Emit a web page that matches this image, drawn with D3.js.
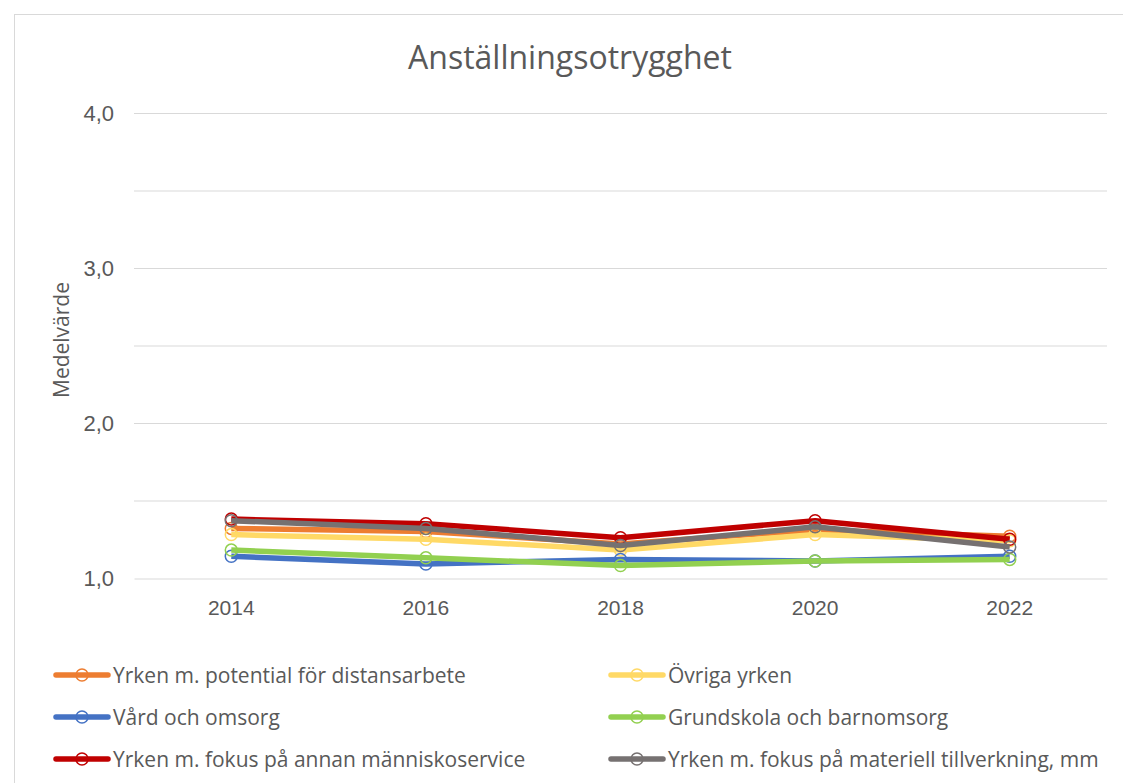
<!DOCTYPE html>
<html>
<head>
<meta charset="utf-8">
<script src="https://cdn.jsdelivr.net/npm/d3@7"></script>
<style>
  body { margin: 0; background: #fff; }
  svg { font-family: "Open Sans", sans-serif; }
  .grid line { stroke: #d9d9d9; stroke-width: 1; }
  .tick text { fill: #595959; font-size: 21px; }
</style>
</head>
<body>
<div id="chart"></div>
<script>
// Chart size
var w = 1123;
var h = 783;

// Data
var years = ["2014", "2016", "2018", "2020", "2022"];
var seriesNames = [
  "Yrken m. potential för distansarbete",
  "Övriga yrken",
  "Vård och omsorg",
  "Grundskola och barnomsorg",
  "Yrken m. fokus på annan människoservice",
  "Yrken m. fokus på materiell tillverkning, mm"
];
var seriesColors = ["#ED7D31", "#FFD966", "#4472C4", "#92D050", "#C00000", "#767171"];
var distans   = [1.32, 1.30, 1.22, 1.31, 1.27];
var ovriga    = [1.28, 1.25, 1.18, 1.28, 1.24];
var vard      = [1.14, 1.09, 1.12, 1.11, 1.14];
var grundskola = [1.18, 1.13, 1.08, 1.11, 1.12];
var manniskoservice = [1.38, 1.35, 1.26, 1.37, 1.25];
var materiell = [1.37, 1.32, 1.21, 1.33, 1.20];
var allValues = [distans, ovriga, vard, grundskola, manniskoservice, materiell];
var yTicks = [1, 2, 3, 4];
var yGrid = [1.5, 2, 2.5, 3, 3.5, 4];

var svg = d3.select("#chart")
  .append("svg")
  .attr("width", w)
  .attr("height", h);

// Chart border
svg.append("rect")
  .attr("x", 14.5).attr("y", 14.5)
  .attr("width", w).attr("height", h)
  .attr("fill", "none")
  .attr("stroke", "#d9d9d9");

var xScale = d3.scaleBand()
  .domain(years)
  .range([134, 1107]);

var yScale = d3.scaleLinear()
  .domain([1, 4])
  .range([578, 113]);

// Gridlines
svg.append("g")
  .attr("class", "grid")
  .selectAll("line")
  .data(yGrid)
  .join("line")
  .attr("x1", 134).attr("x2", 1107)
  .attr("y1", function(d) { return yScale(d) + 0.5; })
  .attr("y2", function(d) { return yScale(d) + 0.5; });

// Y axis
var yAxis = d3.axisLeft(yScale)
  .tickValues(yTicks)
  .tickSize(0)
  .tickPadding(20)
  .tickFormat(function(d) { return d3.format(".1f")(d).replace(".", ","); });

svg.append("g")
  .attr("transform", "translate(134,0)")
  .call(yAxis)
  .call(function(g) { g.select(".domain").remove(); })
  .selectAll(".tick text").style("font-size", "22px");

// X axis
var xAxis = d3.axisBottom(xScale).tickSize(0).tickPadding(22);
svg.append("g")
  .attr("transform", "translate(0,578.5)")
  .call(xAxis)
  .call(function(g) { g.select(".domain").attr("stroke", "#d9d9d9"); });

// Title
svg.append("text")
  .attr("x", 570).attr("y", 69)
  .attr("text-anchor", "middle")
  .attr("fill", "#595959")
  .attr("font-size", 32)
  .text("Anställningsotrygghet");

// Y label
svg.append("text")
  .attr("transform", "translate(69,340) rotate(-90)")
  .attr("text-anchor", "middle")
  .attr("fill", "#595959")
  .attr("font-size", 21)
  .text("Medelvärde");

var line = d3.line()
  .x(function(d, i) { return xScale(years[i]) + xScale.bandwidth() / 2; })
  .y(function(d) { return yScale(d); });

// Series lines and markers
allValues.forEach(function(vals, s) {
  svg.append("path")
    .datum(vals)
    .attr("d", line)
    .attr("fill", "none")
    .attr("stroke", seriesColors[s])
    .attr("stroke-width", 5.5)
    .attr("stroke-linejoin", "round");

  svg.append("g")
    .selectAll("circle")
    .data(vals)
    .join("circle")
    .attr("cx", function(d, i) { return xScale(years[i]) + xScale.bandwidth() / 2; })
    .attr("cy", function(d) { return yScale(d); })
    .attr("r", 6)
    .attr("fill", "none")
    .attr("stroke", seriesColors[s])
    .attr("stroke-width", 1.5);
});

// Legend, two columns
var legend = svg.append("g")
  .selectAll("g")
  .data(seriesNames)
  .join("g")
  .attr("transform", function(d, i) {
    var col = i % 2;
    var row = Math.floor(i / 2);
    return "translate(" + (col == 0 ? 56 : 611) + "," + (675 + row * 42) + ")";
  });

legend.append("line")
  .attr("x1", 0).attr("x2", 52)
  .attr("stroke", function(d, i) { return seriesColors[i]; })
  .attr("stroke-width", 5.5)
  .attr("stroke-linecap", "round");

legend.append("circle")
  .attr("cx", 26).attr("r", 6)
  .attr("fill", "none")
  .attr("stroke", function(d, i) { return seriesColors[i]; })
  .attr("stroke-width", 1.5);

legend.append("text")
  .attr("x", 57).attr("y", 7.5)
  .attr("fill", "#595959")
  .attr("font-size", 21)
  .text(function(d) { return d; });
</script>
</body>
</html>
